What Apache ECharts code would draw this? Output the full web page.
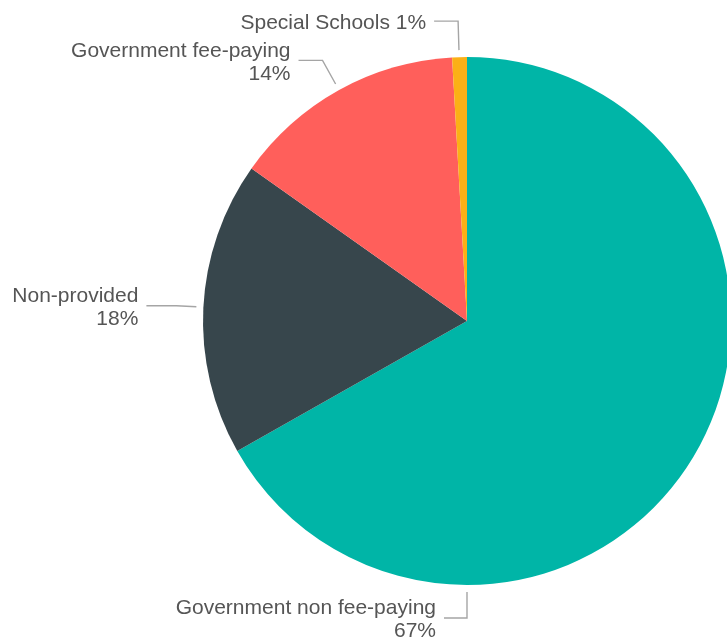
<!DOCTYPE html>
<html>
<head>
<meta charset="utf-8">
<script src="https://cdn.jsdelivr.net/npm/echarts@6/dist/echarts.min.js"></script>
<style>
html,body{margin:0;padding:0;background:#fff;}
#chart{width:727px;height:639px;}
</style>
</head>
<body>
<div id="chart"></div>
<script>
// Data
var categories = ['Government non fee-paying', 'Non-provided', 'Government fee-paying', 'Special Schools'];
var values = [66.8, 18.0, 14.3, 0.9];
var colors = ['#00b5a7', '#37464c', '#ff5f5b', '#fbb016'];

// Label callout config (anchor angle in degrees clockwise from top, segment lengths)
var anchorAngles = [180, -87, -29, -1.7];
var firstLens = [26, 20, 27, 29];
var secondLens = [23, 30, 24, 24];
var singleLine = [false, false, false, true];

var CX = 467, CY = 321, R = 264, GAP = 7;

function polar(angDeg, r) {
  var a = angDeg * Math.PI / 180;
  return [CX + r * Math.sin(a), CY - r * Math.cos(a)];
}

var chart = echarts.init(document.getElementById('chart'));
chart.setOption({
  animation: false,
  series: [{
    type: 'pie',
    center: [CX, CY],
    radius: R,
    startAngle: 90,
    clockwise: true,
    avoidLabelOverlap: false,
    data: categories.map(function (c, i) {
      return { name: c, value: values[i], itemStyle: { color: colors[i] } };
    }),
    label: {
      show: true,
      position: 'outside',
      overflow: 'none',
      color: '#555555',
      fontFamily: 'Liberation Sans, Arial, sans-serif',
      fontSize: 21,
      lineHeight: 23,
      formatter: function (p) {
        return singleLine[p.dataIndex] ? p.name + ' ' + Math.round(p.percent) + '%' : p.name + '\n' + Math.round(p.percent) + '%';
      }
    },
    labelLine: {
      show: true,
      lineStyle: { color: '#a5a5a5', width: 1.4 }
    },
    labelLayout: function (params) {
      var i = params.dataIndex;
      var a = anchorAngles[i];
      var s = polar(a, R + GAP);
      var e = polar(a, R + GAP + firstLens[i]);
      var t = [e[0] - secondLens[i], e[1]];
      return {
        x: t[0] - 8,
        y: t[1] + 2,
        align: 'right',
        verticalAlign: 'middle',
        labelLinePoints: [s, e, t]
      };
    }
  }]
});
</script>
</body>
</html>
